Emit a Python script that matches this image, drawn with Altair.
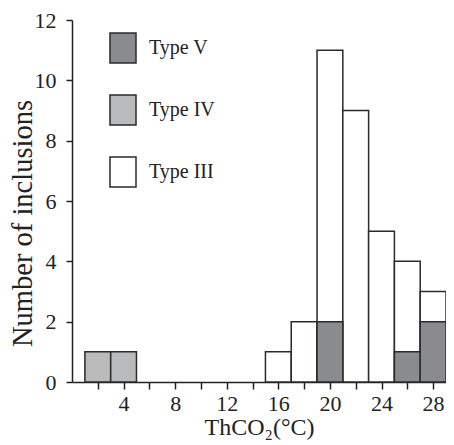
import altair as alt
import pandas as pd

# Data
type_names = ["Type V", "Type IV", "Type III"]
type3_centers = [16, 18, 20, 22, 24, 26, 28]
type3_counts = [1, 2, 11, 9, 5, 4, 3]
type4_centers = [2, 4]
type4_counts = [1, 1]
type5_centers = [20, 26, 28]
type5_counts = [2, 1, 2]
bin_width = 2
x_ticks = [2, 4, 6, 8, 10, 12, 14, 16, 18, 20, 22, 24, 26, 28]
y_ticks = [0, 2, 4, 6, 8, 10, 12]

rows = []
for name, cs, ns in [("Type III", type3_centers, type3_counts),
                     ("Type IV", type4_centers, type4_counts),
                     ("Type V", type5_centers, type5_counts)]:
    for c, n in zip(cs, ns):
        rows.append({"type": name, "x0": c - bin_width / 2, "x1": c + bin_width / 2, "n": n})
df = pd.DataFrame(rows)
df["ord"] = df["type"].map({"Type III": 0, "Type IV": 1, "Type V": 2})

FONT = "Liberation Serif"

chart = alt.Chart(df).mark_bar(stroke="#2a2a2a", strokeWidth=1.5, opacity=1).encode(
    x=alt.X("x0:Q", scale=alt.Scale(domain=[0, 29], nice=False, zero=False),
            axis=alt.Axis(values=x_ticks, labelExpr="datum.value % 4 == 0 ? datum.label : ''",
                          title="ThCO₂(°C)", grid=False, tickSize=7, labelPadding=4,
                          titleY=33, titleBaseline="top", titleFontSize=24)),
    x2="x1:Q",
    y=alt.Y("n:Q", stack=None, scale=alt.Scale(domain=[0, 12], nice=False),
            axis=alt.Axis(values=y_ticks, title="Number of inclusions", grid=False,
                          tickSize=6, labelPadding=10, titleX=-50, titleY=203,
                          titleAngle=270, titleAlign="center", titleBaseline="middle",
                          titleFontSize=28.5)),
    y2=alt.datum(0),
    color=alt.Color("type:N", scale=alt.Scale(domain=type_names,
                                              range=["#8a8b8f", "#b9babc", "#ffffff"]),
                    legend=alt.Legend(title=None, orient="none", legendX=35, legendY=12,
                                      symbolType="M-0.867,-1H0.867V1H-0.867Z",
                                      symbolSize=900, symbolStrokeColor="#2a2a2a",
                                      symbolStrokeWidth=1.5, symbolOpacity=1,
                                      labelFont=FONT, labelFontSize=20, labelColor="#222",
                                      labelOffset=10, rowPadding=26, padding=0)),
    order=alt.Order("ord:Q"),
).properties(
    width=374, height=362,
    autosize=alt.AutoSizeParams(type="none"),
    padding={"left": 64, "top": 12, "right": 0, "bottom": 63},
).configure_view(stroke=None).configure_axis(
    labelFont=FONT, titleFont=FONT, labelFontSize=22,
    labelColor="#222", titleColor="#222", titleFontWeight="normal",
    domainColor="#222", tickColor="#222", domainWidth=1.5, tickWidth=1.5,
)

chart.save("out.html", embed_options={"renderer": "svg", "actions": False})
